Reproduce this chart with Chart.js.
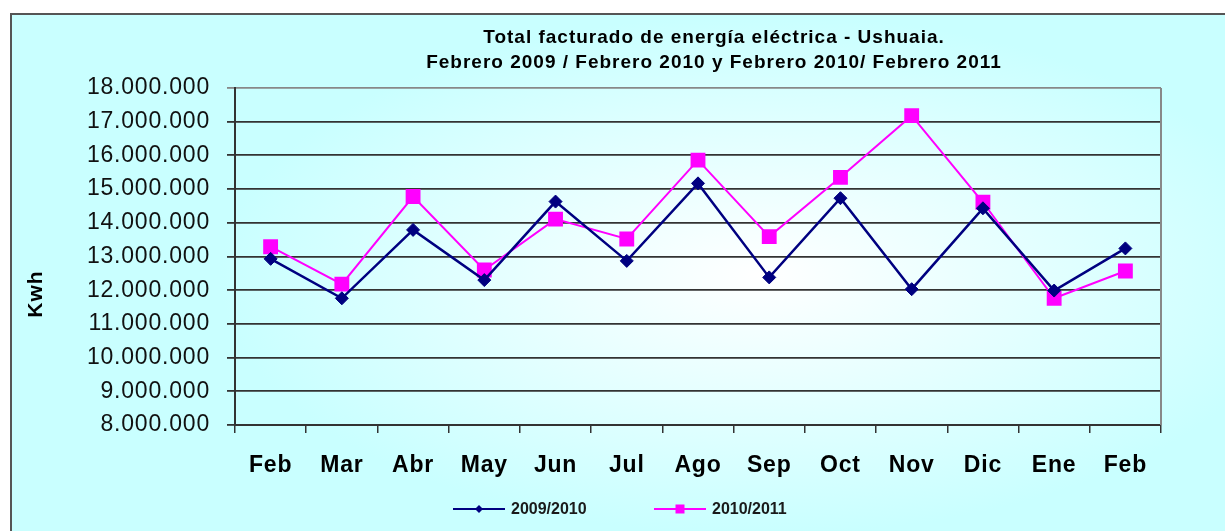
<!DOCTYPE html>
<html>
<head>
<meta charset="utf-8">
<script src="https://cdn.jsdelivr.net/npm/chart.js@4.4.0/dist/chart.umd.min.js"></script>
<style>
  html, body { margin: 0; padding: 0; background: #ffffff; }
  canvas { display: block; }
</style>
</head>
<body>
<canvas id="c" width="1225" height="531"></canvas>
<script>
const titleLines = ['Total facturado de energía eléctrica - Ushuaia.', 'Febrero 2009 / Febrero 2010 y Febrero 2010/ Febrero 2011'];
const yAxisTitle = 'Kwh';
const months = ['Feb', 'Mar', 'Abr', 'May', 'Jun', 'Jul', 'Ago', 'Sep', 'Oct', 'Nov', 'Dic', 'Ene', 'Feb'];
const seriesNames = ['2009/2010', '2010/2011'];
const serie2009 = [12930000, 11760000, 13790000, 12300000, 14630000, 12870000, 15170000, 12380000, 14730000, 12030000, 14430000, 11990000, 13240000];
const serie2010 = [13290000, 12180000, 14780000, 12600000, 14110000, 13520000, 15860000, 13590000, 15350000, 17180000, 14610000, 11760000, 12570000];
const yMin = 8000000, yMax = 18000000, yStep = 1000000;

const FONT = '"Liberation Sans", Arial, sans-serif';
function fmt(v) { return String(v).replace(/\B(?=(\d{3})+(?!\d))/g, '.'); }

const decor = {
  id: 'decor',
  beforeDraw(chart) {
    const ctx = chart.ctx, W = chart.width, H = chart.height;
    ctx.save();
    ctx.fillStyle = '#ffffff';
    ctx.fillRect(0, 0, W, H);
    const cx = 760, cy = 275, rx = 540, ry = 260;
    ctx.save();
    ctx.beginPath();
    ctx.rect(11, 14, W - 11, H - 14);
    ctx.clip();
    ctx.translate(cx, cy);
    ctx.scale(1, ry / rx);
    const g = ctx.createRadialGradient(0, 0, 0, 0, 0, rx);
    g.addColorStop(0, '#ffffff');
    g.addColorStop(0.5, '#e4ffff');
    g.addColorStop(1, '#c9ffff');
    ctx.fillStyle = g;
    ctx.fillRect(-cx - 10, -H * 3, W + 40, H * 6);
    ctx.restore();
    ctx.strokeStyle = '#555555';
    ctx.lineWidth = 2;
    ctx.beginPath();
    ctx.moveTo(11, H + 2);
    ctx.lineTo(11, 14);
    ctx.lineTo(W + 2, 14);
    ctx.stroke();
    ctx.restore();
    chart.ctx.letterSpacing = '0.8px';
  },
  afterDraw(chart) {
    const ctx = chart.ctx, a = chart.chartArea;
    ctx.save();
    ctx.letterSpacing = '0px';
    ctx.strokeStyle = '#888888';
    ctx.lineWidth = 2;
    ctx.beginPath();
    ctx.moveTo(a.right, a.top);
    ctx.lineTo(a.right, a.bottom);
    ctx.stroke();
    // title
    ctx.fillStyle = '#000000';
    ctx.textAlign = 'center';
    ctx.textBaseline = 'middle';
    ctx.font = 'bold 19px ' + FONT;
    ctx.letterSpacing = '1px';
    ctx.fillText(titleLines[0], 714, 38);
    ctx.fillText(titleLines[1], 714, 63);
    // y axis title
    ctx.save();
    ctx.translate(36, 294);
    ctx.rotate(-Math.PI / 2);
    ctx.font = 'bold 21px ' + FONT;
    ctx.letterSpacing = '1px';
    ctx.fillText(yAxisTitle, 0, 0);
    ctx.restore();
    // legend
    ctx.letterSpacing = '0px';
    ctx.font = 'bold 16px ' + FONT;
    ctx.textAlign = 'left';
    const items = [{x: 453}, {x: 654}];
    chart.data.datasets.forEach((ds, i) => {
      const x0 = items[i].x, y = 509, len = 52;
      ctx.strokeStyle = ds.borderColor;
      ctx.lineWidth = 2;
      ctx.beginPath();
      ctx.moveTo(x0, y);
      ctx.lineTo(x0 + len, y);
      ctx.stroke();
      ctx.fillStyle = ds.pointBackgroundColor;
      const mx = x0 + len / 2;
      ctx.beginPath();
      if (ds.pointStyle === 'rectRot') {
        ctx.moveTo(mx, y - 4); ctx.lineTo(mx + 4, y); ctx.lineTo(mx, y + 4); ctx.lineTo(mx - 4, y);
        ctx.closePath();
      } else {
        ctx.rect(mx - 4.5, y - 4.5, 9, 9);
      }
      ctx.fill();
      ctx.fillStyle = '#1a1a1a';
      ctx.fillText(ds.label, x0 + len + 6, y + 1);
    });
    ctx.restore();
  }
};

new Chart(document.getElementById('c'), {
  type: 'line',
  data: {
    labels: months,
    datasets: [
      {
        label: seriesNames[0],
        data: serie2009,
        borderColor: '#000080',
        backgroundColor: '#000080',
        pointBackgroundColor: '#000080',
        pointBorderColor: '#000080',
        borderWidth: 2.5,
        pointStyle: 'rectRot',
        pointRadius: 6.5,
        pointBorderWidth: 1,
        tension: 0
      },
      {
        label: seriesNames[1],
        data: serie2010,
        borderColor: '#ff00ff',
        backgroundColor: '#ff00ff',
        pointBackgroundColor: '#ff00ff',
        pointBorderColor: '#ff00ff',
        borderWidth: 2,
        pointStyle: 'rect',
        pointRadius: 10.5,
        pointBorderWidth: 0,
        tension: 0
      }
    ]
  },
  options: {
    responsive: false,
    animation: false,
    devicePixelRatio: 1,
    layout: { padding: { top: 88, right: 64, bottom: 0, left: 0 } },
    plugins: {
      legend: { display: false },
      title: { display: false },
      tooltip: { enabled: false }
    },
    scales: {
      x: {
        offset: true,
        grid: { offset: true, drawOnChartArea: false, drawTicks: true, tickLength: 8, color: '#333333', lineWidth: 1.5 },
        border: { display: true, color: '#333333', width: 2 },
        ticks: { color: '#000000', font: { family: FONT, size: 23, weight: 'bold' }, padding: 19, maxRotation: 0, autoSkip: false },
        afterFit(s) { s.height = 106; }
      },
      y: {
        min: yMin,
        max: yMax,
        grid: {
          color: (c) => (c.tick && c.tick.value === yMax ? '#888888' : '#333333'),
          lineWidth: 1.8,
          tickLength: 8,
          drawTicks: true
        },
        border: { display: true, color: '#333333', width: 2 },
        ticks: {
          stepSize: yStep,
          color: '#111111',
          font: { family: FONT, size: 23 },
          padding: 17,
          callback: (v) => fmt(v)
        },
        afterFit(s) { s.width = 235; }
      }
    }
  },
  plugins: [decor]
});
</script>
</body>
</html>
